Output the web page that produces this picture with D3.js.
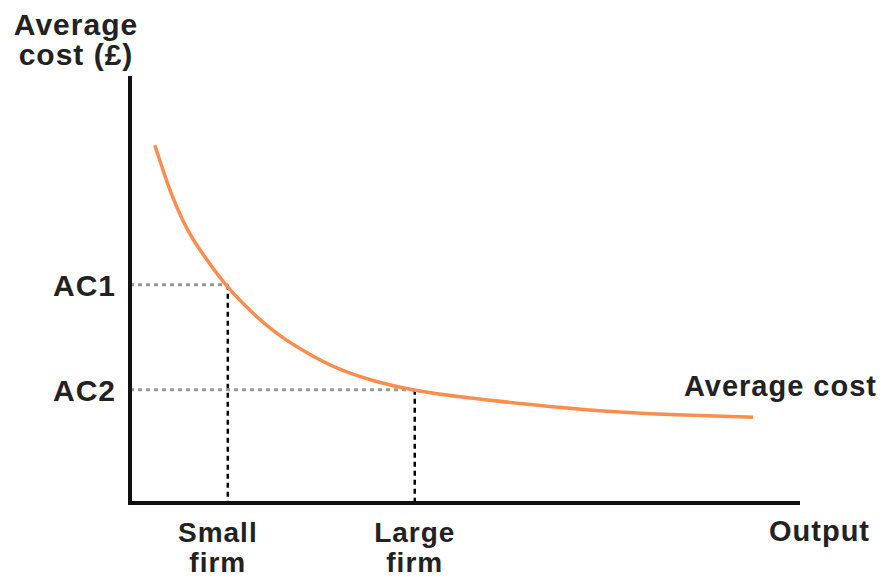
<!DOCTYPE html>
<html>
<head>
<meta charset="utf-8">
<script src="https://cdn.jsdelivr.net/npm/d3@7"></script>
<style>
  body { margin: 0; background: #fff; }
  text { font-family: "Liberation Sans", Arial, sans-serif; font-weight: bold; fill: #222; letter-spacing: 1px; }
</style>
</head>
<body>
<div id="chart"></div>
<script>
// average cost curve (arbitrary units)
const output = [0.37, 0.49, 0.63, 0.78, 0.94, 1.15, 1.43, 1.82, 2.24, 2.69, 3.13, 3.69, 4.18, 5.03, 6.01, 7.01, 8.01, 9.30];
const avgCost = [8.38, 7.80, 7.17, 6.63, 6.16, 5.69, 5.08, 4.45, 3.89, 3.47, 3.11, 2.83, 2.65, 2.46, 2.30, 2.15, 2.07, 2.01];

// the two firms marked on the chart
const firmLabels = [["Small", "firm"], ["Large", "firm"]];
const firmOutput = [1.46, 4.25];
const costLabels = ["AC1", "AC2"];
const costValues = [5.11, 2.65];

const width = 884;
const height = 578;

const x = d3.scaleLinear().domain([0, 10]).range([130, 800]);
const y = d3.scaleLinear().domain([0, 10]).range([503, 76]);

const svg = d3.select("#chart")
  .append("svg")
  .attr("width", width)
  .attr("height", height);

// dotted guides
costValues.forEach((c, i) => {
  svg.append("line")
    .attr("x1", x(0)).attr("x2", x(firmOutput[i]))
    .attr("y1", y(c)).attr("y2", y(c))
    .attr("stroke", "#999")
    .attr("stroke-width", 3)
    .attr("stroke-dasharray", "4,4");
  svg.append("line")
    .attr("x1", x(firmOutput[i])).attr("x2", x(firmOutput[i]))
    .attr("y1", y(c)).attr("y2", y(0))
    .attr("stroke", "#000")
    .attr("stroke-width", 2.5)
    .attr("stroke-dasharray", "5,4");
});

// curve
const line = d3.line()
  .x((d, i) => x(output[i]))
  .y(d => y(d))
  .curve(d3.curveBasis);

svg.append("path")
  .datum(avgCost)
  .attr("d", line)
  .attr("fill", "none")
  .attr("stroke", "#fb8d4e")
  .attr("stroke-width", 3.5);

// axes (plain lines, no ticks)
svg.append("path")
  .attr("d", `M${x(0)},${y(10)}V${y(0)}H${x(10)}`)
  .attr("fill", "none")
  .attr("stroke", "#111")
  .attr("stroke-width", 4);

// y labels
svg.selectAll(".ac")
  .data(costLabels)
  .enter()
  .append("text")
  .attr("x", 116)
  .attr("y", (d, i) => y(costValues[i]) + 11)
  .attr("text-anchor", "end")
  .attr("font-size", "30px")
  .text(d => d);

// x labels
const firm = svg.selectAll(".firm")
  .data(firmLabels)
  .enter()
  .append("text")
  .attr("text-anchor", "middle")
  .attr("font-size", "28px")
  .attr("transform", (d, i) => `translate(${x(firmOutput[i]) - (i == 0 ? 10 : 0)}, 542)`);
firm.append("tspan").attr("x", 0).attr("y", 0).text(d => d[0]);
firm.append("tspan").attr("x", 0).attr("y", 30).text(d => d[1]);

// axis titles
const yTitle = svg.append("text")
  .attr("text-anchor", "middle")
  .attr("font-size", "30px")
  .attr("transform", "translate(76, 35)");
yTitle.append("tspan").attr("x", 0).attr("y", 0).text("Average");
yTitle.append("tspan").attr("x", 0).attr("y", 30).text("cost (£)");

svg.append("text")
  .attr("x", 870)
  .attr("y", 541)
  .attr("text-anchor", "end")
  .attr("font-size", "29px")
  .text("Output");

svg.append("text")
  .attr("x", 877)
  .attr("y", 396)
  .attr("text-anchor", "end")
  .attr("font-size", "29px")
  .text("Average cost");
</script>
</body>
</html>
